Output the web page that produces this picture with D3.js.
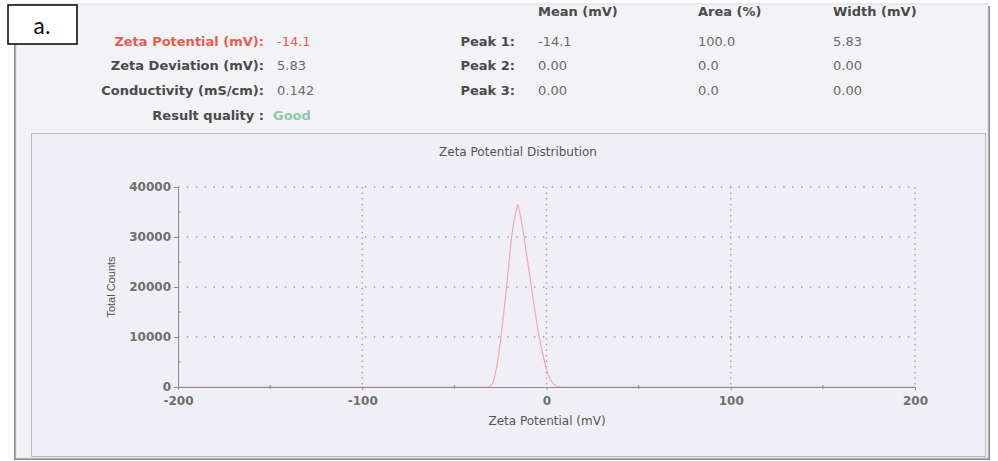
<!DOCTYPE html>
<html>
<head>
<meta charset="utf-8">
<script src="https://cdn.jsdelivr.net/npm/d3@7"></script>
<style>
  body { margin: 0; background: #fff; }
  svg { display: block; }
</style>
</head>
<body>
<svg id="chart"></svg>
<script>
// Zeta potential report

var zetaMv = [-200, -34, -31, -29, -27, -25, -23, -21, -19, -17, -15.5, -14, -12, -10, -8, -6, -4, -2, 0, 2, 4, 6, 8, 200];
var totalCounts = [0, 0, 0, 800, 4000, 9000, 15500, 22500, 30000, 34500, 36600, 34000, 29500, 24500, 19500, 14500, 10000, 6500, 3500, 1500, 500, 100, 0, 0];

var xTicks = [-200, -100, 0, 100, 200];
var xMinor = [-150, -50, 50, 150];
var yTicks = [0, 10000, 20000, 30000, 40000];
var yMinor = [5000, 15000, 25000, 35000];

var summaryLabels = ["Zeta Potential (mV):", "Zeta Deviation (mV):", "Conductivity (mS/cm):", "Result quality :"];
var summaryValues = ["-14.1", "5.83", "0.142", "Good"];
var peakHeaders = ["Mean (mV)", "Area (%)", "Width (mV)"];
var peakLabels = ["Peak 1:", "Peak 2:", "Peak 3:"];
var peakMean = ["-14.1", "0.00", "0.00"];
var peakArea = ["100.0", "0.0", "0.0"];
var peakWidth = ["5.83", "0.00", "0.00"];

var svgWidth = 998, svgHeight = 461;
var font = "'DejaVu Sans', Verdana, sans-serif";

var svg = d3.select('#chart')
    .attr("width", svgWidth)
    .attr("height", svgHeight);

// page + shadow
svg.append("rect").attr("x", 14).attr("y", 6).attr("width", 976).attr("height", 454).attr("fill", "#8a8a8a");
svg.append("rect").attr("x", 16).attr("y", 4).attr("width", 972).attr("height", 454)
    .attr("fill", "#f3f2f7").attr("stroke", "#d8d8dc").attr("stroke-width", 1);

// chart panel
svg.append("rect").attr("x", 31.5).attr("y", 133.5).attr("width", 954).attr("height", 323)
    .attr("fill", "#f0eff6").attr("stroke", "#b8b8bf").attr("stroke-width", 1);

// summary block
var rowY = [46, 70, 95, 120];
var sumG = svg.append("g").attr("font-family", font).attr("font-size", 13);
summaryLabels.forEach(function (d, i) {
    sumG.append("text").attr("x", 264).attr("y", rowY[i]).attr("text-anchor", "end")
        .attr("font-weight", "bold").attr("fill", i === 0 ? "#e0604f" : "#4a4a4a").text(d);
    sumG.append("text").attr("x", i === 3 ? 273 : 277).attr("y", rowY[i])
        .attr("font-weight", i === 3 ? "bold" : "normal")
        .attr("fill", i === 0 ? "#e0604f" : (i === 3 ? "#8ccaa8" : "#6a6a6a")).text(summaryValues[i]);
});

var colX = [538, 698, 833];
peakHeaders.forEach(function (d, i) {
    sumG.append("text").attr("x", colX[i]).attr("y", 16).attr("font-weight", "bold").attr("fill", "#4a4a4a").text(d);
});
peakLabels.forEach(function (d, i) {
    var y = rowY[i];
    sumG.append("text").attr("x", 515).attr("y", y).attr("text-anchor", "end")
        .attr("font-weight", "bold").attr("fill", "#4a4a4a").text(d);
    sumG.append("text").attr("x", colX[0]).attr("y", y).attr("fill", "#6a6a6a").text(peakMean[i]);
    sumG.append("text").attr("x", colX[1]).attr("y", y).attr("fill", "#6a6a6a").text(peakArea[i]);
    sumG.append("text").attr("x", colX[2]).attr("y", y).attr("fill", "#6a6a6a").text(peakWidth[i]);
});

// "a." tag
svg.append("rect").attr("x", 8).attr("y", 5).attr("width", 69).attr("height", 39)
    .attr("fill", "#fff").attr("stroke", "#000").attr("stroke-width", 1.5);
svg.append("text").attr("x", 42).attr("y", 34).attr("text-anchor", "middle")
    .attr("font-family", "Carlito, 'Liberation Sans', sans-serif").attr("font-size", 24).attr("fill", "#111").text("a.");

// plot
var plotLeft = 178, plotRight = 915, plotTop = 187, plotBottom = 387;
var x = d3.scaleLinear().domain([-200, 200]).range([plotLeft, plotRight]);
var y = d3.scaleLinear().domain([0, 40000]).range([plotBottom, plotTop]);

var grid = svg.append("g").attr("stroke", "#999").attr("stroke-width", 1.4);
grid.selectAll(".hg").data(yTicks.slice(1)).enter().append("line")
    .attr("x1", plotLeft).attr("x2", plotRight)
    .attr("y1", function (d) { return y(d); }).attr("y2", function (d) { return y(d); })
    .attr("stroke-dasharray", "1.4,7.5");
grid.selectAll(".vg").data(xTicks.slice(1)).enter().append("line")
    .attr("y1", plotTop).attr("y2", plotBottom)
    .attr("x1", function (d) { return x(d); }).attr("x2", function (d) { return x(d); })
    .attr("stroke-dasharray", "1.4,4.2");

// curve
var line = d3.line()
    .x(function (d, i) { return x(zetaMv[i]); })
    .y(function (d) { return y(d); });
svg.append("path").datum(totalCounts)
    .attr("d", line).attr("fill", "none").attr("stroke", "#f4a7b3").attr("stroke-width", 1.2);

// axes
var fmt = function (d) { return String(d); };
var xAxis = d3.axisBottom(x).tickValues(xTicks).tickSize(3).tickPadding(6).tickFormat(fmt);
var gx = svg.append("g").attr("transform", "translate(0," + plotBottom + ")").call(xAxis);
var yAxis = d3.axisLeft(y).tickValues(yTicks).tickSize(4).tickPadding(3).tickFormat(fmt);
var gy = svg.append("g").attr("transform", "translate(" + plotLeft + ",0)").call(yAxis);

[gx, gy].forEach(function (g) {
    g.select(".domain").attr("stroke", "#8a8a8a");
    g.selectAll(".tick line").attr("stroke", "#8a8a8a");
    g.selectAll("text").attr("font-family", font).attr("font-size", 12)
        .attr("font-weight", "bold").attr("fill", "#6e6e6e");
});

svg.append("g").selectAll("line").data(yMinor).enter().append("line")
    .attr("x1", plotLeft).attr("x2", plotLeft + 3)
    .attr("y1", function (d) { return y(d); }).attr("y2", function (d) { return y(d); })
    .attr("stroke", "#8a8a8a");
svg.append("g").selectAll("line").data(xMinor).enter().append("line")
    .attr("x1", function (d) { return x(d); }).attr("x2", function (d) { return x(d); })
    .attr("y1", plotBottom - 2).attr("y2", plotBottom + 2)
    .attr("stroke", "#8a8a8a");

// titles
svg.append("text").attr("x", 518).attr("y", 156).attr("text-anchor", "middle")
    .attr("font-family", font).attr("font-size", 12).attr("fill", "#555")
    .text("Zeta Potential Distribution");
svg.append("text").attr("x", 547).attr("y", 425).attr("text-anchor", "middle")
    .attr("font-family", font).attr("font-size", 12).attr("fill", "#555")
    .text("Zeta Potential (mV)");
svg.append("text").attr("transform", "translate(115,287) rotate(-90)").attr("text-anchor", "middle")
    .attr("font-family", "'Liberation Sans', Arial, sans-serif").attr("font-size", 11).attr("fill", "#555")
    .text("Total Counts");
</script>
</body>
</html>
